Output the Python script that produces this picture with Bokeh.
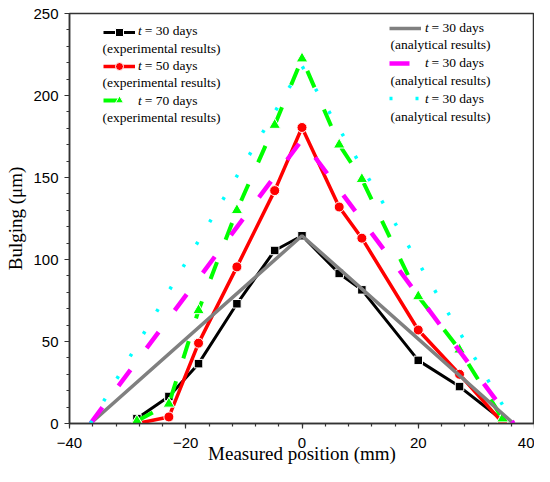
from bokeh.plotting import figure
from bokeh.models import Range1d, SingleIntervalTicker, Legend, LegendItem, Label, ColumnDataSource
from bokeh.embed import file_html
from bokeh.resources import INLINE

# ---- data ----
x_exp = [-28.4, -22.9, -17.8, -11.2, -4.7, 0.0, 6.4, 10.3, 20.0, 27.1, 34.5]
y_exp_30 = [3.0, 16.5, 36.5, 73.0, 105.5, 114.5, 91.5, 81.5, 38.5, 22.5, 2.0]
y_exp_50 = [0.0, 4.0, 49.0, 95.5, 142.0, 180.5, 132.0, 113.0, 57.0, 30.0, 0.5]
y_exp_70 = [1.5, 12.0, 69.0, 130.0, 182.0, 222.5, 170.0, 149.0, 77.5, 45.0, 3.0]
x_ana = [-36.4, 0.0, 36.4]
y_ana_gray = [0.0, 114.5, 0.0]
y_ana_magenta = [0.0, 173.0, 0.0]
y_ana_cyan = [0.0, 218.0, 0.0]

legend_left_first = ["= 30 days", "= 50 days", "= 70 days"]
legend_left_second = ["(experimental results)"] * 3
legend_right_first = ["= 30 days", "= 30 days", "= 30 days"]
legend_right_second = ["(analytical results)"] * 3

SERIF = "Liberation Serif"
SANS = "Liberation Sans"
AX = "#333333"

p = figure(width=534, height=466, output_backend="svg", toolbar_location=None,
           x_range=Range1d(-40, 40), y_range=Range1d(0, 250),
           min_border_left=69, min_border_right=0, min_border_top=13, min_border_bottom=41,
           x_axis_label="Measured position (mm)", y_axis_label="Bulging (μm)")
p.xgrid.visible = False
p.ygrid.visible = False
p.outline_line_color = AX
p.outline_line_width = 1.5
p.background_fill_color = "white"
p.border_fill_color = "white"

p.xaxis.ticker = SingleIntervalTicker(interval=20, num_minor_ticks=5)
p.yaxis.ticker = SingleIntervalTicker(interval=50, num_minor_ticks=5)
for ax in (p.xaxis[0], p.yaxis[0]):
    ax.axis_line_color = AX
    ax.axis_line_width = 1.5
    ax.major_tick_line_color = AX
    ax.minor_tick_line_color = AX
    ax.major_tick_line_width = 1.2
    ax.minor_tick_line_width = 1.2
    ax.major_tick_in = 0
    ax.major_tick_out = 5
    ax.minor_tick_in = 0
    ax.minor_tick_out = 3
    ax.major_label_text_font = SANS
    ax.major_label_text_font_size = "15px"
    ax.major_label_text_color = "black"
    ax.axis_label_text_font = SERIF
    ax.axis_label_text_font_size = "19px"
    ax.axis_label_text_font_style = "normal"
    ax.axis_label_text_color = "black"
p.xaxis.major_label_standoff = 9
p.yaxis.major_label_standoff = 6
p.xaxis.axis_label_standoff = -8
p.yaxis.axis_label_standoff = 4

src = ColumnDataSource(dict(x=x_exp, y30=y_exp_30, y50=y_exp_50, y70=y_exp_70))
ana = ColumnDataSource(dict(x=x_ana, g=y_ana_gray, m=y_ana_magenta, c=y_ana_cyan))

l30 = p.line("x", "y30", source=src, line_color="black", line_width=3)
m30 = p.scatter("x", "y30", source=src, marker="square", size=8.5, fill_color="black",
                line_color="white", line_width=1)
l50 = p.line("x", "y50", source=src, line_color="#ff0000", line_width=3.5)
m50 = p.scatter("x", "y50", source=src, marker="circle", size=10, fill_color="#ff0000",
                line_color="white", line_width=1)
l70 = p.line("x", "y70", source=src, line_color="#00ff00", line_width=4, line_dash="18 24")
m70 = p.scatter("x", "y70", source=src, marker="triangle", size=11.5, fill_color="#00ff00",
                line_color="white", line_width=1)

lg = p.line("x", "g", source=ana, line_color="#808080", line_width=3.5)
lm = p.line("x", "m", source=ana, line_color="#ff00ff", line_width=4.5, line_dash="20 27")
lc = p.line("x", "c", source=ana, line_color="#00ffff", line_width=3.5, line_dash="3 23")

leg_left = Legend(items=[LegendItem(label="", renderers=[l30, m30]),
                         LegendItem(label="", renderers=[l50, m50]),
                         LegendItem(label="", renderers=[l70, m70])],
                  location=(34, 313), glyph_width=32, glyph_height=20, label_height=20,
                  label_width=0, label_standoff=0, spacing=14, padding=0, margin=0,
                  border_line_color=None, background_fill_alpha=0)
leg_right = Legend(items=[LegendItem(label="", renderers=[lg]),
                          LegendItem(label="", renderers=[lm]),
                          LegendItem(label="", renderers=[lc])],
                   location=(320, 315), glyph_width=32, glyph_height=20, label_height=20,
                   label_width=0, label_standoff=0, spacing=15, padding=0, margin=0,
                   border_line_color=None, background_fill_alpha=0)
p.add_layout(leg_left)
p.add_layout(leg_right)


def add_text(x, y, text, italic=False):
    p.add_layout(Label(x=x, y=y, x_units="screen", y_units="screen", text=text,
                       text_font=SERIF, text_font_size="13.5px",
                       text_font_style="italic" if italic else "normal",
                       text_baseline="middle", text_align="left", text_color="black"))


# legend texts (frame-relative pixels)
left_y0, left_step = 392.7, 17.3
for i in range(3):
    y1 = left_y0 - 2 * i * left_step
    add_text(68.5, y1, "t", italic=True)
    add_text(75.3, y1, legend_left_first[i])
    add_text(33.0, y1 - left_step, legend_left_second[i])

right_y0, right_step = 396.5, 17.8
for i in range(3):
    y1 = right_y0 - 2 * i * right_step
    add_text(355.5, y1, "t", italic=True)
    add_text(362.0, y1, legend_right_first[i])
    add_text(321.0, y1 - right_step, legend_right_second[i])

open("out.html", "w").write(file_html(p, INLINE))
